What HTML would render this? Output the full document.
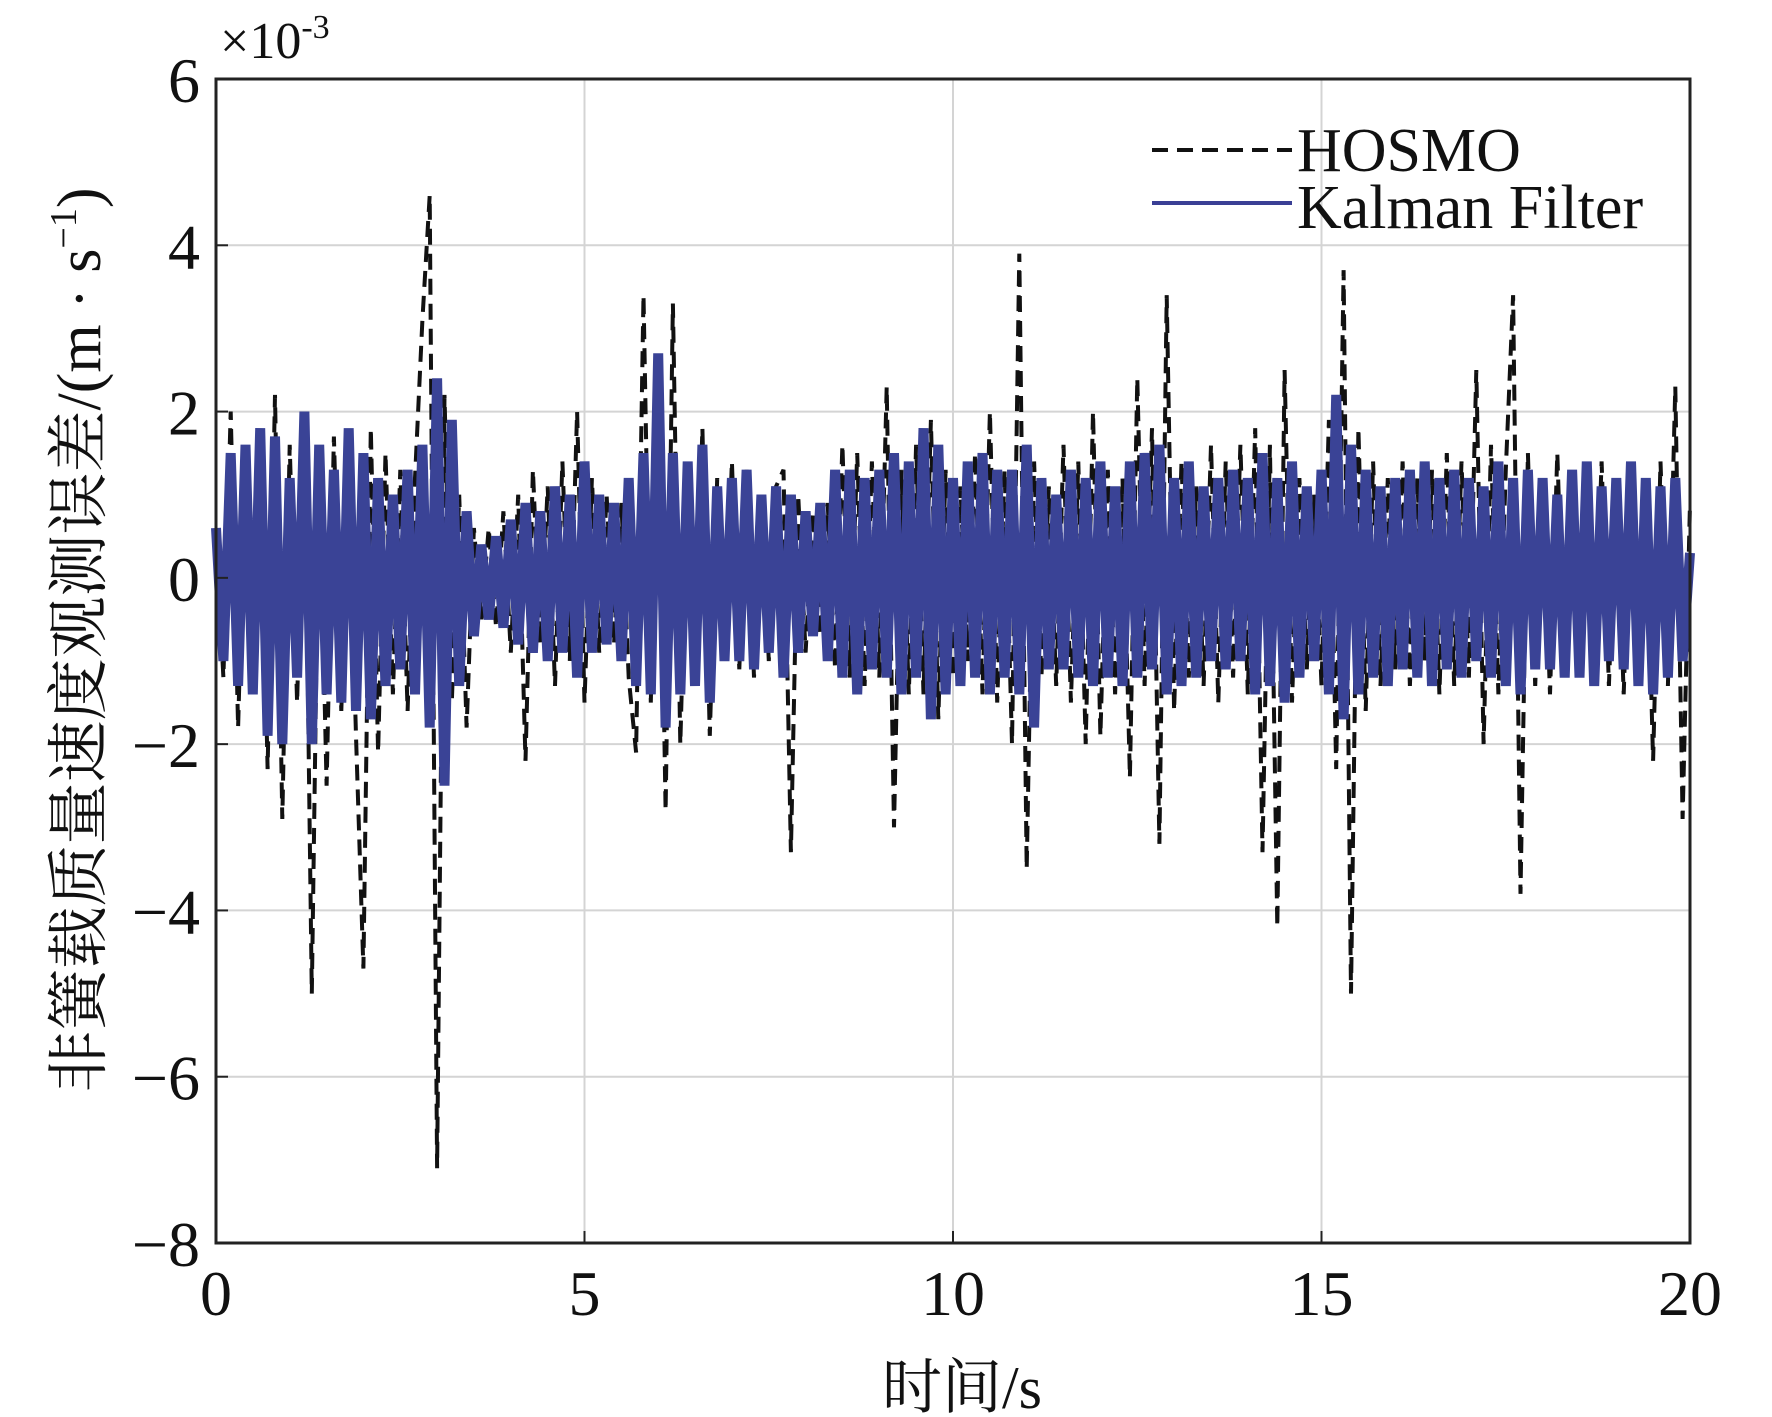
<!DOCTYPE html>
<html><head><meta charset="utf-8">
<style>
html,body{margin:0;padding:0;background:#fff;}
svg{display:block;}
text{font-family:"Liberation Serif","Noto Serif CJK SC",serif;fill:#111;}
</style></head>
<body>
<svg id="chart" width="1772" height="1417" viewBox="0 0 1772 1417" xmlns="http://www.w3.org/2000/svg">
<g id="grid"></g>
<g id="series"></g>
<rect x="216" y="79" width="1474" height="1164" fill="none" stroke="#222" stroke-width="3"/>
<g id="ticks"></g>
<text x="220" y="58" font-size="52">×10<tspan font-size="34" dy="-20">-3</tspan></text>
<text x="962" y="1408" font-size="60" text-anchor="middle">时间/s</text>
<text transform="translate(100,640) rotate(-90)" font-size="62" text-anchor="middle">非簧载质量速度观测误差/(m · s<tspan font-size="38" dy="-24">−1</tspan><tspan dy="24">)</tspan></text>
<g>
<line x1="1152" y1="150" x2="1292" y2="150" stroke="#111" stroke-width="4" stroke-dasharray="16,9"/>
<text x="1297" y="171" font-size="62">HOSMO</text>
<line x1="1152" y1="203" x2="1292" y2="203" stroke="#3a3f95" stroke-width="4"/>
<text x="1297" y="228" font-size="62">Kalman Filter</text>
</g>
</svg>
<script>
const xTicks=[0,5,10,15,20];
const yTicks=[-8,-6,-4,-2,0,2,4,6];
const tStep=0.1;
const hosmo=[0.5,-1.2,2.0,-1.8,1.5,-1.3,1.7,-2.3,2.2,-2.9,
1.6,-1.5,1.9,-5.0,1.4,-2.5,1.7,-1.6,1.2,-1.9,
-4.7,1.8,-2.1,1.5,-1.4,1.3,-1.6,1.2,3.1,4.6,
-7.1,2.2,-1.5,1.0,-1.8,0.6,-0.5,0.6,-0.6,0.8,
-0.9,1.0,-2.2,1.3,-0.8,1.1,-1.3,1.4,-1.0,2.0,
-1.5,1.2,-0.9,1.0,-0.8,0.9,-1.2,-2.1,3.4,-1.5,
2.6,-2.8,3.3,-2.0,1.3,-1.2,1.8,-1.9,1.2,-1.0,
1.4,-1.1,1.3,-1.2,1.0,-1.0,1.1,1.3,-3.3,1.0,
-0.9,0.8,-0.7,0.9,-1.1,1.6,-1.2,1.5,-1.3,1.4,
-1.2,2.3,-3.0,1.3,-1.4,1.6,-1.4,1.9,-1.7,1.3,
-1.2,1.1,-1.0,1.5,-1.4,2.0,-1.5,1.3,-2.0,3.9,
-3.5,1.4,-1.2,1.1,-1.3,1.6,-1.5,1.4,-2.0,2.0,
-1.9,1.3,-1.4,1.2,-2.4,2.4,-1.3,1.8,-3.2,3.4,
-1.6,1.4,-1.2,1.1,-1.3,1.6,-1.5,1.4,-1.2,1.6,
-1.4,1.8,-3.3,1.6,-4.2,2.5,-1.5,1.2,-1.1,1.0,
-1.3,1.9,-2.3,3.7,-5.0,1.8,-1.6,1.4,-1.3,1.2,
-1.1,1.4,-1.3,1.2,-1.0,1.3,-1.4,1.5,-1.3,1.4,
-1.2,2.5,-2.0,1.6,-1.4,1.3,3.4,-3.8,1.5,-1.3,
1.2,-1.4,1.5,-1.2,1.1,-1.0,1.3,-1.2,1.4,-1.3,
1.2,-1.4,1.3,-1.2,1.1,-2.2,1.4,-1.3,2.3,-2.9,
0.9];
const kalman=[0.6,-1.0,1.5,-1.3,1.6,-1.4,1.8,-1.9,1.7,-2.0,1.2,-1.2,2.0,-2.0,1.6,-1.4,1.3,-1.5,1.8,-1.6,
1.5,-1.7,1.2,-1.3,1.0,-1.1,1.3,-1.4,1.6,-1.8,2.4,-2.5,1.9,-1.3,0.8,-0.7,0.4,-0.5,0.5,-0.6,
0.7,-0.8,0.9,-0.9,0.8,-1.0,1.1,-0.9,1.0,-1.2,1.4,-0.9,1.0,-0.8,0.9,-1.0,1.2,-1.3,1.5,-1.4,
2.7,-1.8,1.5,-1.4,1.4,-1.3,1.6,-1.5,1.1,-1.0,1.2,-1.0,1.3,-1.1,1.0,-0.9,1.1,-1.2,1.0,-0.9,
0.8,-0.7,0.9,-1.0,1.3,-1.2,1.3,-1.4,1.2,-1.1,1.3,-1.2,1.5,-1.4,1.4,-1.2,1.8,-1.7,1.6,-1.4,
1.2,-1.3,1.4,-1.2,1.5,-1.4,1.3,-1.2,1.3,-1.4,1.6,-1.8,1.2,-1.1,1.0,-1.1,1.3,-1.2,1.2,-1.3,
1.4,-1.2,1.1,-1.3,1.4,-1.2,1.5,-1.1,1.6,-1.4,1.2,-1.3,1.4,-1.2,1.1,-1.0,1.2,-1.1,1.3,-1.0,
1.2,-1.4,1.5,-1.3,1.2,-1.5,1.4,-1.2,1.1,-1.0,1.3,-1.4,2.2,-1.7,1.6,-1.4,1.3,-1.2,1.1,-1.3,
1.2,-1.1,1.3,-1.2,1.4,-1.3,1.2,-1.1,1.3,-1.2,1.2,-1.0,1.1,-1.2,1.4,-1.3,1.2,-1.4,1.3,-1.1,
1.2,-1.1,1.0,-1.2,1.3,-1.2,1.4,-1.3,1.1,-1.0,1.2,-1.1,1.4,-1.3,1.2,-1.4,1.1,-1.2,1.2,-1.0,
0.3];
const L=216,R=1690,T=79,B=1243;
function sx(t){return L+(t-0)/(20-0)*(R-L);}
function sy(v){return T+(6-v)/(6-(-8))*(B-T);}
const NS='http://www.w3.org/2000/svg';
const grid=document.getElementById('grid'),ticks=document.getElementById('ticks'),series=document.getElementById('series');
function mk(tag,attrs,parent){const e=document.createElementNS(NS,tag);for(const k in attrs)e.setAttribute(k,attrs[k]);parent.appendChild(e);return e;}
xTicks.forEach(v=>{
  const x=sx(v);
  if(v>0&&v<20){const g=mk('line',{x1:x,y1:T,x2:x,y2:B,stroke:'#d4d4d4','stroke-width':2},grid);
  
  }
  const tk=mk('line',{x1:x,y1:B,x2:x,y2:B-12,stroke:'#222','stroke-width':2},ticks);
  
  
  const lb=mk('text',{x:x,y:1315,'font-size':64,'text-anchor':'middle'},ticks);
  lb.textContent=v;
  
  
});
yTicks.forEach(v=>{
  const y=sy(v);
  if(v>-8&&v<6){const g=mk('line',{x1:L,y1:y,x2:R,y2:y,stroke:'#d4d4d4','stroke-width':2},grid);
  
  }
  const tk=mk('line',{x1:L,y1:y,x2:L+12,y2:y,stroke:'#222','stroke-width':2},ticks);
  
  
  const lb=mk('text',{x:200,y:y+23,'font-size':64,'text-anchor':'end'},ticks);
  lb.textContent=v<0?'\u2212'+Math.abs(v):String(v);
  
  
});
function pts(arr){return arr.map((v,i)=>sx(i*tStep).toFixed(1)+','+sy(v).toFixed(1)).join(' ');}
const h=mk('polyline',{points:pts(hosmo),fill:'none',stroke:'#111','stroke-width':4,'stroke-dasharray':'16,9'},series);


const k=mk('polyline',{points:pts(kalman),fill:'none',stroke:'#3a4396','stroke-width':10,'stroke-linejoin':'bevel'},series);


</script>
</body></html>
